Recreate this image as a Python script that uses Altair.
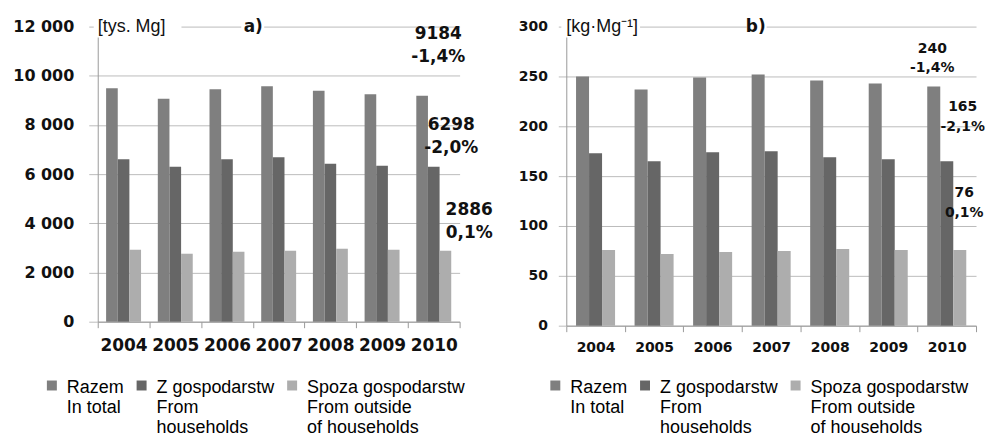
import altair as alt
import pandas as pd

years = ["2004", "2005", "2006", "2007", "2008", "2009", "2010"]
series = ["Razem", "Z gospodarstw", "Spoza gospodarstw"]
series_lines = [
    ["Razem", "In total", ""],
    ["Z gospodarstw", "From", "households"],
    ["Spoza gospodarstw", "From outside", "of households"],
]
colors = ["#7f7f7f", "#666666", "#adadad"]

# panel a) [tys. Mg]
razem_a = [9496, 9063, 9455, 9577, 9387, 9253, 9184]
z_a = [6608, 6298, 6608, 6690, 6420, 6338, 6298]
spoza_a = [2926, 2764, 2845, 2886, 2967, 2926, 2886]
ann_a_values = [9184, 6298, 2886]
ann_a_labels = ["9184\n-1,4%", "6298\n-2,0%", "2886\n0,1%"]

# panel b) [kg·Mg-1]
razem_b = [250, 237, 249, 252, 246, 243, 240]
z_b = [173, 165, 174, 175, 169, 167, 165]
spoza_b = [76, 72, 74, 75, 77, 76, 76]
ann_b_values = [240, 165, 76]
ann_b_labels = ["240\n-1,4%", "165\n-2,1%", "76\n0,1%"]


def long_df(vals_list):
    rows = []
    for s, vals in zip(series, vals_list):
        for y, v in zip(years, vals):
            rows.append({"year": y, "series": s, "value": v})
    return pd.DataFrame(rows)


label_expr = " : ".join(
    f"datum.label == '{s}' ? {lines!r}" for s, lines in zip(series[:-1], series_lines[:-1])
) + f" : {series_lines[-1]!r}"

# square symbol drawn a little below the entry centre
square_low = "M-1,0.2H1V2.2H-1Z"


def panel(df, ann_vals, ann_labels, ann_offsets, width, height, ymax, ystep,
          ylab_size, xlab_size, ann_size, ann_lh, ylab_pad, ytick, xlab_pad,
          offset_pad, legend_x, unit_text, unit_cover, title_text, title_x,
          title_cover):
    base = alt.Chart(df)
    bars = base.mark_bar().encode(
        x=alt.X("year:N", sort=years,
                scale=alt.Scale(paddingInner=0, paddingOuter=0),
                axis=alt.Axis(title=None, labelAngle=0, tickBand="extent",
                              labelFont="DejaVu Sans", labelFontWeight="bold",
                              labelFontSize=xlab_size, labelColor="#111111",
                              domainColor="#9a9a9a", tickColor="#9a9a9a",
                              tickSize=6, labelPadding=xlab_pad, grid=False)),
        xOffset=alt.XOffset("series:N", sort=series,
                            scale=alt.Scale(paddingInner=0, paddingOuter=offset_pad)),
        y=alt.Y("value:Q",
                scale=alt.Scale(domain=[0, ymax], nice=False),
                axis=alt.Axis(title=None, values=list(range(0, ymax + 1, ystep)),
                              labelExpr="replace(format(datum.value, ','), ',', ' ')",
                              labelFont="DejaVu Sans", labelFontWeight="bold",
                              labelFontSize=ylab_size, labelColor="#111111",
                              grid=True, gridColor="#bcbcbc", domainColor="#9a9a9a",
                              tickColor="#bcbcbc", tickSize=ytick,
                              labelPadding=ylab_pad)),
        color=alt.Color("series:N", sort=series,
                        scale=alt.Scale(domain=series, range=colors),
                        legend=alt.Legend(orient="none", legendX=legend_x, legendY=345,
                                          direction="horizontal", title=None,
                                          padding=0,
                                          symbolType=square_low, symbolSize=100,
                                          symbolStrokeWidth=0,
                                          labelFont="Liberation Sans", labelFontSize=18,
                                          labelColor="#000000", labelExpr=label_expr,
                                          labelBaseline="top", labelOffset=6,
                                          columnPadding=8, labelLimit=300)),
    )
    one = alt.Data(values=[{"k": 1}])
    cover1 = alt.Chart(one).mark_rect(color="white").encode(
        x=alt.value(unit_cover[0]), x2=alt.value(unit_cover[1]),
        y=alt.value(-12), y2=alt.value(11))
    cover2 = alt.Chart(one).mark_rect(color="white").encode(
        x=alt.value(title_cover[0]), x2=alt.value(title_cover[1]),
        y=alt.value(-10), y2=alt.value(10))
    unit = alt.Chart(one).mark_text(text=unit_text, align="left", baseline="middle",
                                    font="Liberation Sans", fontSize=18,
                                    color="#111111").encode(
        x=alt.value(0), y=alt.value(0))
    title = alt.Chart(one).mark_text(text=title_text, align="center", baseline="middle",
                                     font="DejaVu Sans", fontWeight="bold", fontSize=17,
                                     color="#111111").encode(
        x=alt.value(title_x), y=alt.value(0))
    layers = [bars, cover1, cover2, unit, title]
    for v, lab, (dx, dy) in zip(ann_vals, ann_labels, ann_offsets):
        adf = pd.DataFrame({"year": ["2010"], "value": [v], "label": [lab]})
        layers.append(
            alt.Chart(adf).mark_text(lineBreak="\n", align="center", baseline="middle",
                                     font="DejaVu Sans", fontWeight="bold",
                                     fontSize=ann_size, lineHeight=ann_lh,
                                     color="#111111", dx=dx, dy=dy).encode(
                x=alt.X("year:N", sort=years),
                y=alt.Y("value:Q"),
                text="label:N"))
    return alt.layer(*layers).properties(width=width, height=height)


left = panel(long_df([razem_a, z_a, spoza_a]), ann_a_values, ann_a_labels,
             [(4.5, -62), (17.5, -41.5), (35.5, -41)],
             363, 296, 12000, 2000, 16, 17, 17, 23, 15, 9, 10, 0.72, -55,
             "[tys. Mg]", (-4, 84), "a)", 156, (144, 167))
right = panel(long_df([razem_b, z_b, spoza_b]), ann_b_values, ann_b_labels,
              [(-14.5, -38), (16, -54), (17.5, -57)],
              411, 300, 300, 50, 14, 14, 14, 20, 11, 8, 9, 0.75, -20,
              "[kg·Mg⁻¹]", (-5, 74), "b)", 190, (181, 201))

chart = alt.hconcat(left, right, spacing=107, bounds="flush").resolve_scale(
    color="independent", x="independent", y="independent", xOffset="independent"
).resolve_legend(color="independent").properties(
    padding={"left": 4, "top": 6, "right": 0, "bottom": 0},
    background="white",
).configure_view(stroke=None)

chart.save("out.html", embed_options={"renderer": "svg", "actions": False})
